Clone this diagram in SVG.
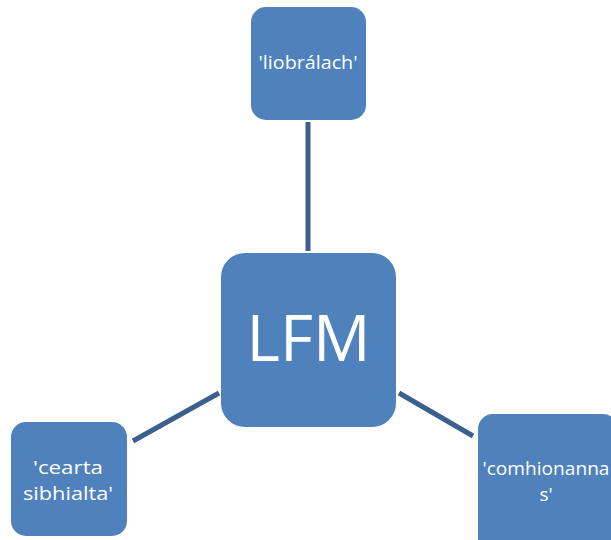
<svg xmlns="http://www.w3.org/2000/svg" width="611" height="540" viewBox="0 0 611 540">
  <style>
    .box { fill: #4F81BD; }
    .lbl { fill: #FFFFFF; font-family: "Open Sans", "Liberation Sans", sans-serif; text-anchor: middle; }
    .link { stroke: #3B5F8F; stroke-width: 5; fill: none; }
  </style>
  <rect width="611" height="540" fill="#FFFFFF"/>
  <g id="connectors">
    <line class="link" x1="308" y1="122" x2="308" y2="251"/>
    <line class="link" x1="133" y1="441" x2="219" y2="393"/>
    <line class="link" x1="399" y1="393" x2="473" y2="436"/>
  </g>
  <g id="node-lfm">
    <rect class="box" x="221" y="253" width="175" height="174" rx="24"/>
    <text class="lbl" x="308.5" y="361" font-size="64">LFM</text>
  </g>
  <g id="node-liobralach">
    <rect class="box" x="251" y="7" width="115" height="113" rx="15"/>
    <text class="lbl" x="308" y="69" font-size="18" textLength="99" lengthAdjust="spacingAndGlyphs">'liobrálach'</text>
  </g>
  <g id="node-cearta">
    <rect class="box" x="11" y="422" width="116" height="114" rx="15"/>
    <text class="lbl" x="68" y="474" font-size="19" textLength="70" lengthAdjust="spacingAndGlyphs">'cearta</text>
    <text class="lbl" x="68" y="500" font-size="19" textLength="90" lengthAdjust="spacingAndGlyphs">sibhialta'</text>
  </g>
  <g id="node-comhionannas">
    <rect class="box" x="478" y="414" width="140" height="140" rx="15"/>
    <text class="lbl" x="546" y="475" font-size="19" textLength="127" lengthAdjust="spacingAndGlyphs">'comhionanna</text>
    <text class="lbl" x="546" y="501" font-size="19">s'</text>
  </g>
</svg>
